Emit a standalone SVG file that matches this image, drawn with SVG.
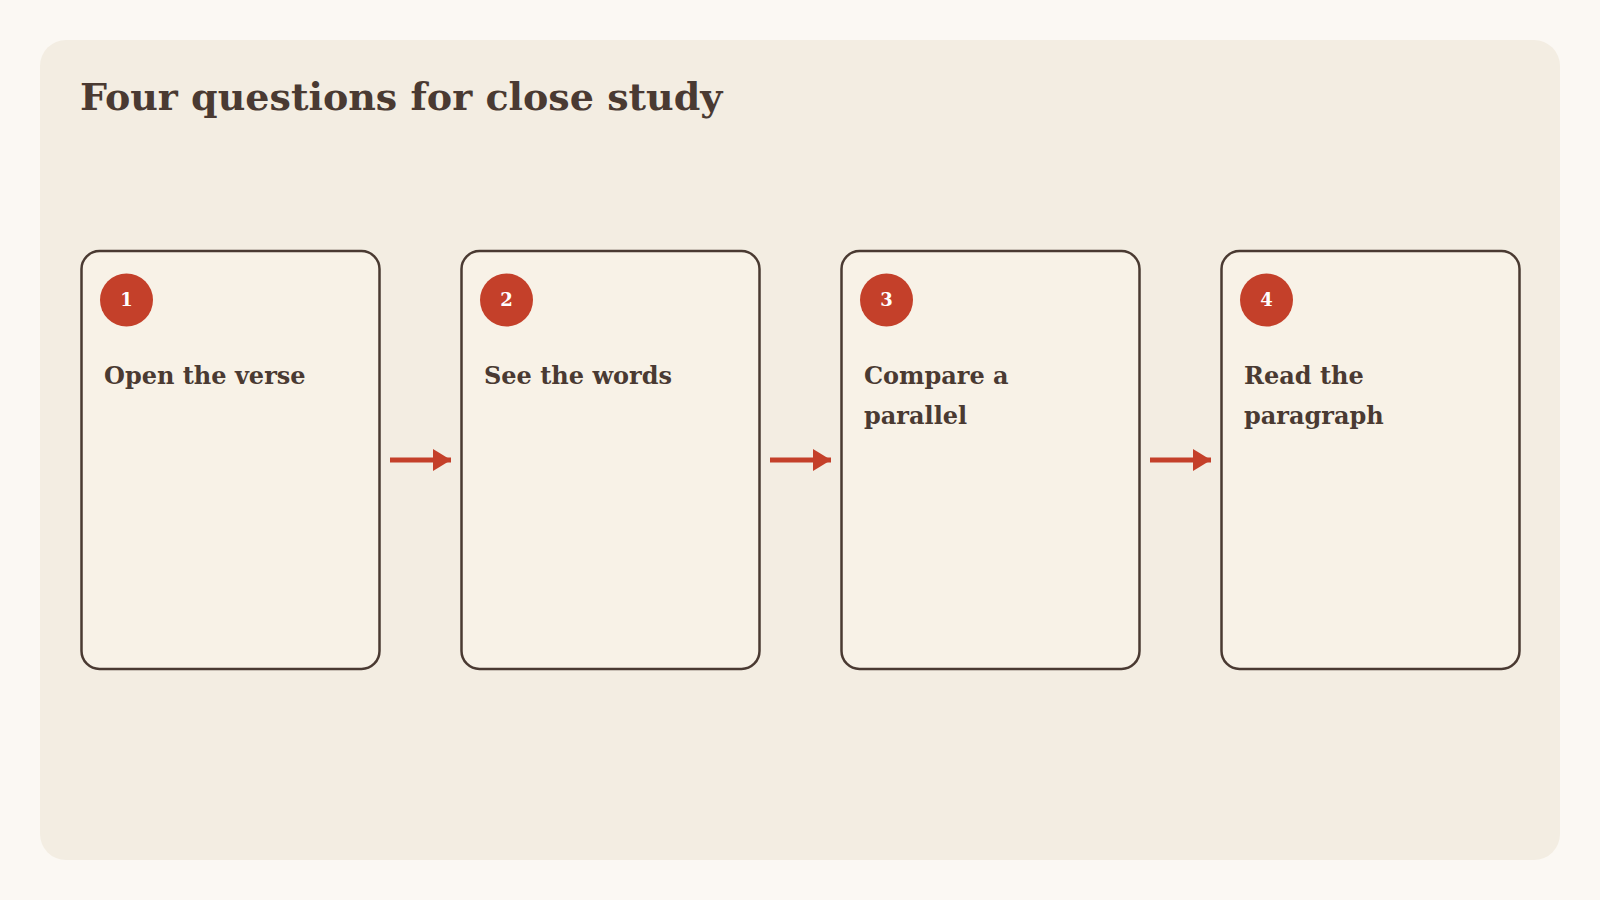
<svg xmlns="http://www.w3.org/2000/svg" width="1600" height="900" viewBox="0 0 1600 900">
<style>
.card{fill:#f8f2e7;stroke:#4a3a32;stroke-width:2.5}
.num{fill:#c4402a}
.nt{fill:#fff;font-family:"DejaVu Serif",serif;font-weight:bold;font-size:18px;text-anchor:middle}
.lab{fill:#4a3a32;font-family:"DejaVu Serif",serif;font-weight:bold;font-size:24px}
.arr{stroke:#c4402a;stroke-width:5;fill:none}
</style>
<defs><marker id="ah" markerWidth="20" markerHeight="24" refX="18" refY="12" orient="auto" markerUnits="userSpaceOnUse"><path d="M0,1 L18,12 L0,23 Z" fill="#c4402a"/></marker></defs>
<rect width="1600" height="900" fill="#fbf8f3"/>
<rect x="40" y="40" width="1520" height="820" rx="26" fill="#f3ede2"/>
<text x="80" y="110" fill="#4a3a32" font-family="DejaVu Serif, serif" font-weight="bold" font-size="38">Four questions for close study</text>
<g id="n1"><rect class="card" x="81.5" y="251" width="298" height="418" rx="18"/><circle class="num" cx="126.5" cy="300" r="26.5"/><text class="nt" x="126.5" y="306">1</text><text class="lab" x="104" y="384">Open the verse</text></g>
<g id="n2"><rect class="card" x="461.5" y="251" width="298" height="418" rx="18"/><circle class="num" cx="506.5" cy="300" r="26.5"/><text class="nt" x="506.5" y="306">2</text><text class="lab" x="484" y="384">See the words</text></g>
<g id="n3"><rect class="card" x="841.5" y="251" width="298" height="418" rx="18"/><circle class="num" cx="886.5" cy="300" r="26.5"/><text class="nt" x="886.5" y="306">3</text><text class="lab" x="864" y="384">Compare a</text><text class="lab" x="864" y="424">parallel</text></g>
<g id="n4"><rect class="card" x="1221.5" y="251" width="298" height="418" rx="18"/><circle class="num" cx="1266.5" cy="300" r="26.5"/><text class="nt" x="1266.5" y="306">4</text><text class="lab" x="1244" y="384">Read the</text><text class="lab" x="1244" y="424">paragraph</text></g>
<g id="connectors">
<line class="arr" x1="390" y1="460" x2="451" y2="460" marker-end="url(#ah)"/>
<line class="arr" x1="770" y1="460" x2="831" y2="460" marker-end="url(#ah)"/>
<line class="arr" x1="1150" y1="460" x2="1211" y2="460" marker-end="url(#ah)"/>
</g>
</svg>
